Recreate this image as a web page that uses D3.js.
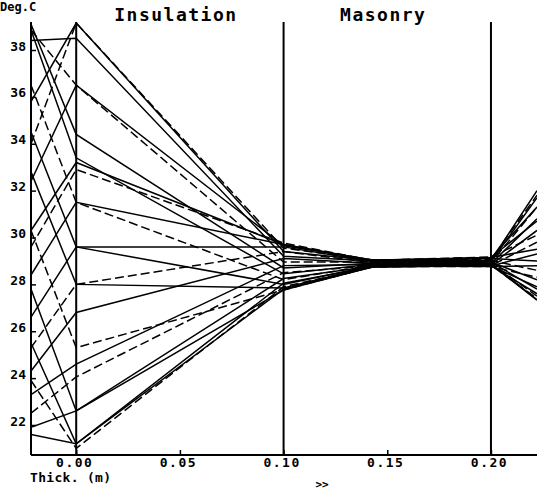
<!DOCTYPE html>
<html>
<head>
<meta charset="utf-8">
<script src="https://cdn.jsdelivr.net/npm/d3@7"></script>
<style>
  html, body { margin: 0; padding: 0; background: #fff; }
  svg { display: block; }
  text { font-family: "DejaVu Sans Mono", monospace; fill: #000; font-weight: bold; }
</style>
</head>
<body>
<script>
// Hourly temperature profiles through a wall: insulation 0.00-0.10 m, masonry 0.10-0.20 m.
const hours = d3.range(24);

// Node positions through the wall (m)
const nodeThickness = [-0.0218, 0.0, 0.10, 0.143, 0.20, 0.2222];

// Temperatures (deg C) at each node, one entry per hour
const outsideTemp   = [24.3, 23.3, 22.5, 21.9, 21.6, 23.9, 25.5, 27.8, 30.3, 32.8, 34.5, 36.5,
                       38.85, 39.1, 38.85, 38.4, 35.8, 34.0, 32.4, 30.3, 29.6, 28.4, 26.6, 25.3];
const surfaceTemp   = [26.8, 24.6, 24.05, 22.6, 21.2, 21.0, 21.2, 22.6, 25.3, 28.0, 29.6, 31.5,
                       33.4, 34.4, 36.5, 38.5, 39.15, 39.15, 36.5, 33.2, 32.9, 31.5, 29.6, 28.0];
const interfaceTemp = [29.1, 28.8, 28.5, 28.25, 28.05, 27.9, 27.8, 27.76, 27.76, 27.85, 28.0, 28.2,
                       28.45, 28.7, 28.95, 29.2, 29.4, 29.55, 29.65, 29.7, 29.76, 29.7, 29.6, 29.4];
const midMasonryTemp = [28.9, 28.85, 28.8, 28.78, 28.75, 28.74, 28.74, 28.75, 28.76, 28.78, 28.8, 28.83,
                        28.86, 28.9, 28.95, 29.0, 29.02, 29.04, 29.04, 29.03, 29.02, 29.0, 28.97, 28.93];
const innerMasonryTemp = [28.95, 28.95, 28.9, 28.88, 28.85, 28.82, 28.8, 28.78, 28.76, 28.76, 28.78, 28.8,
                          28.84, 28.88, 28.92, 28.97, 29.02, 29.07, 29.12, 29.15, 29.17, 29.15, 29.1, 29.02];
const beyondTemp    = [28.2, 27.8, 27.5, 27.35, 27.33, 27.4, 27.6, 27.9, 28.3, 28.8, 29.3, 29.8,
                       30.3, 30.8, 31.3, 31.7, 32.0, 31.8, 31.3, 30.7, 30.1, 29.5, 29.0, 28.6];

const tempTicks = [22, 24, 26, 28, 30, 32, 34, 36, 38];
const thickTicks = [0.00, 0.05, 0.10, 0.15, 0.20];
const layerBounds = [0.00, 0.10, 0.20];
const layerNames = [{name: "Insulation", from: 0.00, to: 0.10}, {name: "Masonry", from: 0.10, to: 0.20}];

const W = 537, H = 493;
const axisX = 31, axisTop = 22, axisBottom = 455;

const x = d3.scaleLinear().domain([-0.0218, 0.2222]).range([axisX, W]);
const y = d3.scaleLinear().domain([22, 38]).range([425, 50]);

const svg = d3.select("body").append("svg").attr("width", W).attr("height", H);

svg.append("clipPath").attr("id", "plotClip")
  .append("rect").attr("x", axisX).attr("y", 0).attr("width", W - axisX).attr("height", axisBottom);

// Profiles
const nodeSeries = [outsideTemp, surfaceTemp, interfaceTemp, midMasonryTemp, innerMasonryTemp, beyondTemp];
const profiles = hours.map(i => nodeThickness.map((t, k) => ({ t, v: nodeSeries[k][i] })));

const line = d3.line().x(d => x(d.t)).y(d => y(d.v));

svg.append("g").attr("clip-path", "url(#plotClip)")
  .selectAll("path").data(profiles).join("path")
  .attr("d", line)
  .attr("fill", "none")
  .attr("stroke", "#000")
  .attr("stroke-width", 1.5)
  .attr("stroke-dasharray", (d, i) => i % 3 === 2 ? "9,4" : null);

// Layer boundaries
svg.append("g").selectAll("line").data(layerBounds).join("line")
  .attr("x1", d => x(d)).attr("x2", d => x(d))
  .attr("y1", axisTop).attr("y2", axisBottom)
  .attr("stroke", "#000").attr("stroke-width", 2);

// Y axis
const yAxis = svg.append("g").attr("transform", `translate(${axisX},0)`)
  .call(d3.axisLeft(y).tickValues(tempTicks).tickSize(-5).tickSizeOuter(0).tickPadding(5).tickFormat(d3.format("d")));
yAxis.select(".domain").remove();
yAxis.selectAll(".tick line").attr("stroke-width", 1.5);
yAxis.selectAll(".tick text").attr("dy", "0em").style("font-size", "13px")
  .style("font-family", "DejaVu Sans Mono, monospace").style("font-weight", "bold");
svg.append("line").attr("x1", axisX).attr("x2", axisX).attr("y1", axisTop).attr("y2", axisBottom)
  .attr("stroke", "#000").attr("stroke-width", 2);

// X axis
const xAxis = svg.append("g").attr("transform", `translate(0,${axisBottom})`)
  .call(d3.axisBottom(x).tickValues(thickTicks).tickSize(-5).tickSizeOuter(0).tickPadding(3).tickFormat(d3.format(".2f")));
xAxis.select(".domain").remove();
xAxis.selectAll(".tick line").attr("stroke-width", 1.5);
xAxis.selectAll(".tick text").style("font-size", "13px").style("letter-spacing", "1.5px")
  .style("font-family", "DejaVu Sans Mono, monospace").style("font-weight", "bold").attr("dx", "-2");
svg.append("line").attr("x1", axisX).attr("x2", W).attr("y1", axisBottom).attr("y2", axisBottom)
  .attr("stroke", "#000").attr("stroke-width", 2);

// Titles and units
svg.selectAll(".layer").data(layerNames).join("text").attr("class", "layer")
  .attr("x", d => x((d.from + d.to) / 2) - 4).attr("y", 21)
  .attr("text-anchor", "middle").style("font-size", "18px").style("letter-spacing", "1.5px")
  .text(d => d.name);

svg.append("text").attr("x", 0).attr("y", 11).style("font-size", "12px").text("Deg.C");
svg.append("text").attr("x", 30).attr("y", 482).style("font-size", "13px").style("letter-spacing", "0.3px").text("Thick. (m)");
svg.append("text").attr("x", 322).attr("y", 488).attr("text-anchor", "middle").style("font-size", "11px").text(">>");
</script>
</body>
</html>
